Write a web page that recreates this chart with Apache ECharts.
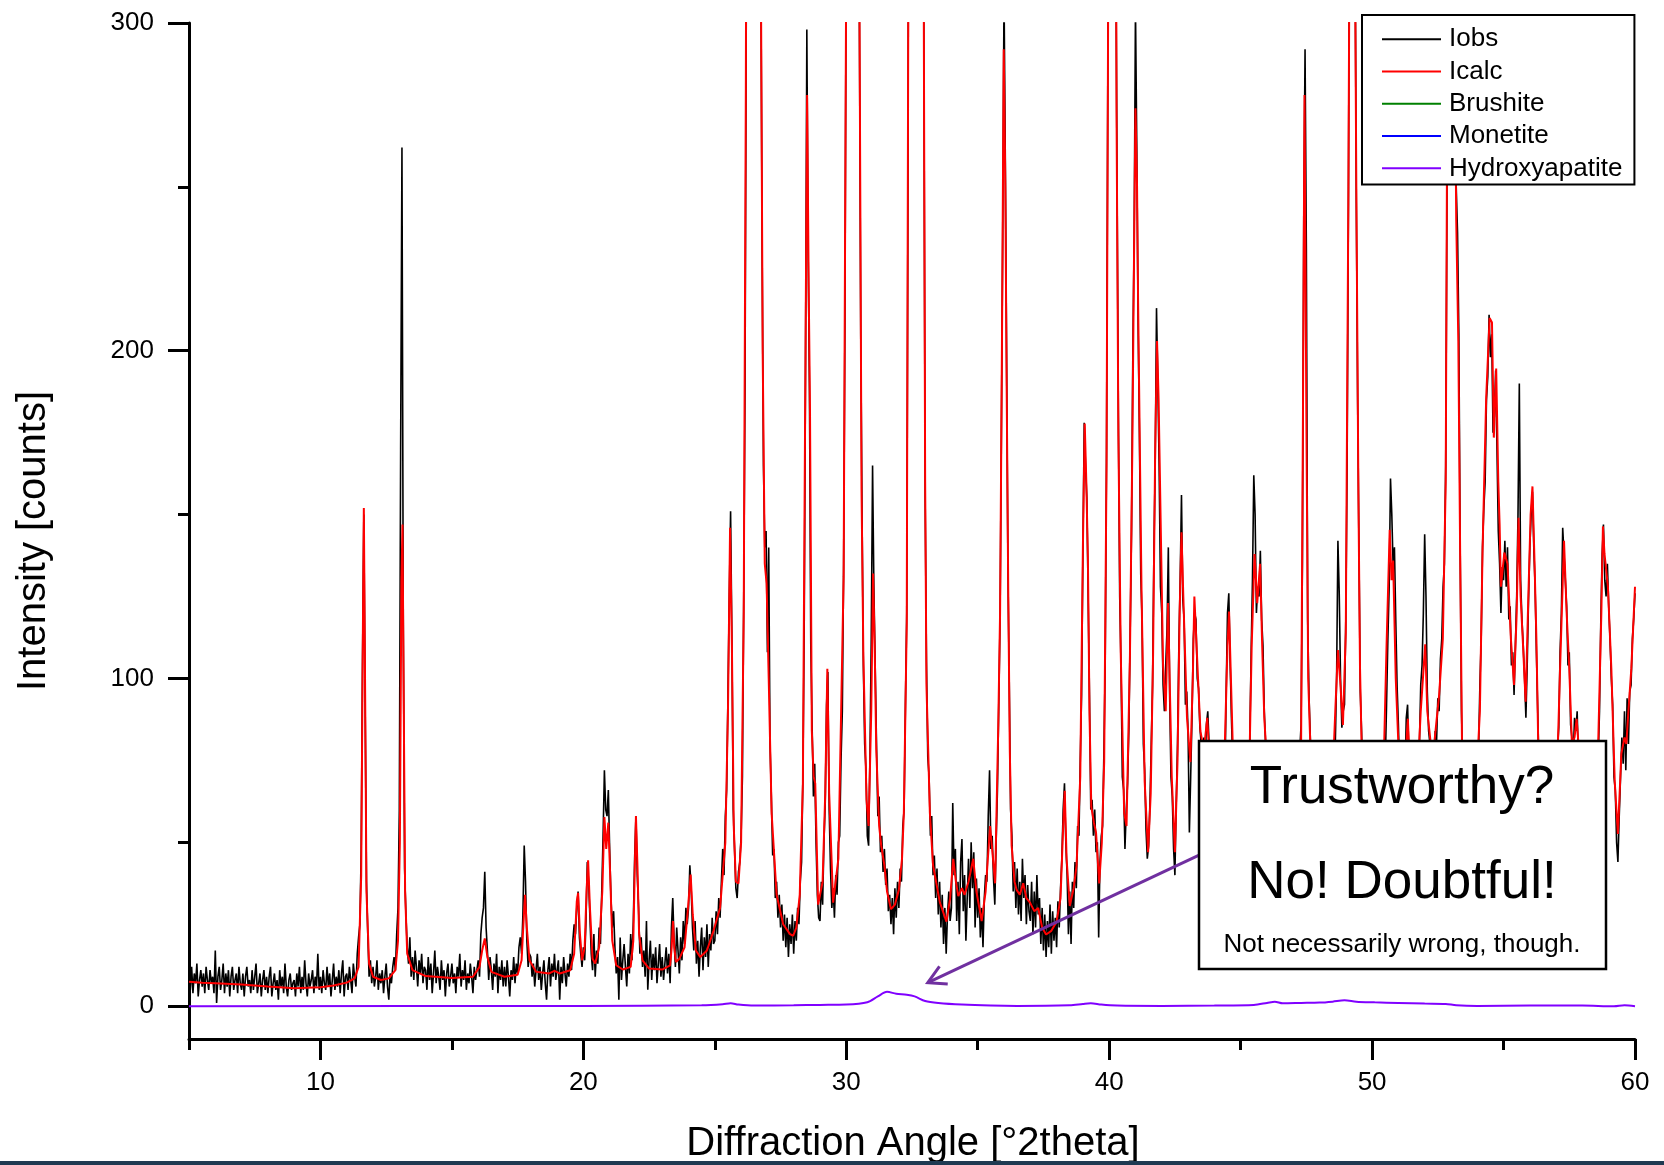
<!DOCTYPE html>
<html>
<head>
<meta charset="utf-8">
<title>XRD pattern - Rietveld fit</title>
<script src="https://cdn.jsdelivr.net/npm/echarts@6/dist/echarts.min.js"></script>
<style>
  html, body { margin: 0; padding: 0; background: #fff; }
  #chart { width: 1664px; height: 1165px; }
</style>
</head>
<body>
<div id="chart"></div>
<script>
// scan grid of the measured pattern (one row of 20 steps per degree)
const scanStart = 5;
const scanStep = 0.05;

// Iobs, rows start at 5, 6, 7 ... 60 deg
const iobsRows = [
  [9,5,12,4,10,7,13,3,8,11,6,10,4,12,8,5,11,7,9,4],
  [17,1,9,12,5,8,13,4,10,6,11,3,9,12,5,8,10,4,12,7],
  [5,10,3,9,12,6,8,4,11,5,9,13,4,7,10,3,8,11,5,9],
  [4,9,12,3,7,10,5,8,2,11,6,9,4,13,6,3,8,10,5,7],
  [8,3,10,6,12,4,9,5,14,7,3,10,6,8,11,4,9,6,16,5],
  [9,4,11,7,5,12,6,10,3,8,13,5,9,6,11,4,10,14,3,9],
  [10,5,12,8,4,13,9,6,16,21,25,48,105,150,92,38,22,9,14,7],
  [12,6,9,14,5,10,7,11,4,9,13,6,2,10,7,12,15,11,22,30],
  [60,170,262,118,42,28,18,13,21,9,15,8,17,12,6,14,10,16,7,12],
  [11,5,15,8,13,4,10,17,7,12,9,5,14,8,11,3,10,13,6,9],
  [13,7,10,4,12,9,16,6,11,8,14,5,10,7,13,9,4,12,8,11],
  [14,9,22,27,30,41,24,17,8,15,11,5,13,9,16,4,12,8,14,6],
  [12,6,14,9,3,11,8,15,7,13,10,18,21,16,28,49,38,20,12,16],
  [15,9,13,6,11,16,8,12,5,10,14,7,2,11,15,6,13,9,16,8],
  [8,14,2,12,7,15,10,6,13,9,16,11,20,25,22,30,35,21,16,12],
  [18,14,26,44,38,27,16,11,22,9,17,13,24,19,35,52,72,60,58,66],
  [48,33,24,29,18,10,15,2,21,8,14,19,12,6,16,10,22,14,26,45],
  [58,40,30,16,21,12,17,9,26,5,14,20,8,16,11,18,7,13,19,9],
  [15,8,13,18,10,16,7,24,33,20,12,24,17,10,21,14,26,19,30,25],
  [30,43,36,24,17,26,13,20,9,18,24,11,21,15,25,12,22,17,27,19],
  [20,29,22,33,27,38,48,40,58,66,95,125,151,112,60,48,36,33,41,44],
  [52,70,125,190,310,500,610,660,690,700,680,640,570,500,400,320,230,165,140,145],
  [108,140,80,64,46,48,33,38,27,34,24,31,20,28,18,27,15,25,19,28],
  [16,26,20,30,25,38,44,70,115,195,298,230,188,110,86,64,74,50,34,27],
  [26,38,31,50,62,92,102,60,42,30,36,27,40,34,50,52,75,90,135,210],
  [330,610,880,860,790,770,710,590,460,340,300,205,150,104,80,72,52,49,76,112],
  [165,128,104,80,58,64,47,52,41,48,37,42,29,34,25,33,22,36,27,38],
  [30,42,38,55,60,92,120,260,520,790,910,940,990,1010,960,880,810,690,460,300],
  [155,105,76,70,52,58,40,46,33,42,28,38,24,34,19,30,16,28,35,26],
  [30,62,40,48,26,38,22,44,51,29,40,20,33,45,30,50,36,47,24,39],
  [27,36,21,30,18,33,40,38,58,72,48,52,39,31,50,66,92,118,175,235],
  [310,258,195,132,98,60,52,35,44,30,42,28,38,26,45,33,40,25,37,29],
  [26,38,22,35,24,40,28,33,19,30,17,28,15,26,18,31,16,29,20,27],
  [18,32,24,36,45,60,68,50,40,22,35,19,38,30,44,36,55,52,75,95],
  [138,178,165,155,125,95,60,63,52,60,47,50,21,44,52,55,78,105,170,290],
  [410,590,720,610,490,330,250,180,125,104,70,66,48,60,68,85,115,145,200,235],
  [305,262,208,175,132,118,80,72,54,45,49,62,80,98,138,165,213,190,165,128],
  [120,98,90,104,115,140,95,70,64,48,40,62,80,110,130,156,124,118,92,96],
  [84,53,70,88,112,120,118,100,97,85,80,76,82,74,86,90,80,70,60,62],
  [52,60,50,62,55,64,58,72,68,96,120,126,105,88,74,60,65,50,56,48],
  [46,56,48,60,52,62,70,82,108,130,162,150,120,128,125,139,118,110,90,80],
  [70,62,66,54,58,50,55,47,52,58,46,53,49,56,44,51,57,48,54,50],
  [52,60,58,70,64,78,86,135,240,292,231,118,95,82,70,72,60,64,52,56],
  [50,58,54,62,50,60,56,63,58,66,64,72,80,100,142,126,100,85,90,92],
  [118,165,245,360,400,430,370,330,245,185,140,96,84,66,70,55,60,48,54,46],
  [50,44,52,48,56,50,58,54,62,66,74,92,112,128,161,150,134,140,118,98],
  [86,70,74,60,72,70,88,92,76,72,60,68,58,70,62,76,80,98,104,120],
  [144,125,96,84,80,70,78,72,84,80,94,90,106,112,128,135,165,250,340,460],
  [480,440,380,290,250,236,205,140,90,72,70,58,64,56,60,54,62,55,60,68],
  [68,78,98,112,140,152,160,185,192,211,198,205,175,180,194,170,145,135,120,134],
  [130,142,128,140,118,122,104,108,95,110,125,150,190,130,118,110,100,88,104,124],
  [140,150,157,140,128,108,90,72,70,60,64,56,62,58,64,55,60,66,58,64],
  [66,78,85,108,120,146,138,130,122,104,108,86,82,76,88,84,90,74,78,66],
  [70,62,68,60,66,64,70,58,66,62,68,72,76,90,118,138,147,130,125,135],
  [122,112,100,92,70,66,50,44,58,70,82,74,90,72,94,80,96,98,112,118],
  [126]
];

// Icalc as [angle, counts]
const icalcPoints = [
  [5,7.5],[5.5,7.2],[6,7],[7,6.6],[8,6],[9,5.5],[10,5.8],[10.5,6.3],[11,7.2],[11.3,8.5],
  [11.45,12],[11.55,40],[11.6,100],[11.65,152],[11.7,95],[11.75,35],[11.85,13],[12,9],[12.3,8],[12.6,8.5],
  [12.85,11],[12.95,20],[13.02,50],[13.08,130],[13.12,147],[13.17,90],[13.22,35],[13.3,16],[13.5,11],[14,9.2],
  [15,8.6],[15.8,9],[16.05,12],[16.15,17],[16.25,20.7],[16.35,15],[16.5,10.5],[17,9],[17.5,9.6],[17.65,14],
  [17.72,25],[17.78,34],[17.85,24],[17.95,14],[18.2,10.5],[18.7,10],[18.9,10.8],[19.1,10],[19.5,11],[19.65,16],
  [19.75,32],[19.8,34.6],[19.87,22],[19.95,14],[20.05,18],[20.12,35],[20.18,44.5],[20.25,30],[20.35,14.5],[20.45,13],
  [20.6,18],[20.72,35],[20.8,57.7],[20.87,48],[20.95,56],[21.02,40],[21.1,20],[21.25,12.5],[21.5,11.2],[21.8,12],
  [21.9,20],[21.95,40],[22,58],[22.06,42],[22.12,22],[22.25,14],[22.5,11.5],[23,11.2],[23.3,12.5],[23.36,18],
  [23.41,26],[23.46,18],[23.52,13.5],[23.65,14.5],[23.85,18],[23.98,30],[24.08,40.2],[24.16,28],[24.28,17],[24.45,15],
  [24.7,17],[24.95,23],[25.2,30],[25.4,50],[25.5,90],[25.58,146],[25.65,110],[25.72,55],[25.8,38],[25.9,37.5],
  [26,50],[26.1,120],[26.18,280],[26.25,500],[26.45,700],[26.65,500],[26.75,320],[26.82,200],[26.9,135],[26.97,129],
  [27.05,100],[27.16,59],[27.35,34],[27.6,25],[27.86,22],[27.98,21.5],[28.1,24],[28.23,34],[28.35,68],[28.45,200],
  [28.51,278],[28.57,220],[28.62,182],[28.69,84],[28.76,70],[28.82,68],[28.93,31],[29.1,38],[29.2,65],[29.28,103],
  [29.35,65],[29.5,31.6],[29.7,45],[29.9,131],[30,320],[30.1,900],[30.25,800],[30.4,450],[30.5,310],[30.58,158],
  [30.65,107],[30.77,63],[30.85,55],[30.95,90],[31.02,132],[31.08,110],[31.14,78.5],[31.25,55],[31.33,49],[31.45,43],
  [31.55,35],[31.7,29.6],[31.85,31],[32,35.5],[32.12,45],[32.19,59],[32.3,117],[32.36,310],[32.45,800],[32.65,1000],
  [32.85,700],[32.95,300],[33,160],[33.05,98],[33.18,59],[33.3,43],[33.56,31.7],[33.81,25.8],[33.95,33],[34.07,45],
  [34.17,38],[34.26,33.6],[34.4,36],[34.5,34],[34.65,38],[34.83,45],[34.95,35],[35.15,26],[35.3,35],[35.47,55],
  [35.58,45],[35.66,37.5],[35.78,85],[35.85,120],[35.92,200],[35.99,292],[36.05,250],[36.1,190],[36.16,127],[36.22,78],
  [36.29,49],[36.4,38],[36.48,35.5],[36.6,34],[36.73,37.5],[36.85,33],[36.99,31.6],[37.15,29],[37.3,30],[37.45,24],
  [37.6,21.9],[37.8,23],[38,25.8],[38.15,33],[38.25,55],[38.31,65.7],[38.38,45],[38.5,30.6],[38.65,36],[38.76,43],
  [38.9,70],[39,140],[39.07,177.8],[39.13,160],[39.19,137],[39.25,90],[39.32,60.8],[39.42,56],[39.5,53],[39.62,37.5],
  [39.72,50],[39.81,74.6],[39.9,166],[39.95,280],[40,400],[40.1,700],[40.2,500],[40.28,273],[40.35,174],[40.44,107.6],
  [40.57,59],[40.66,55],[40.79,107],[40.88,170],[40.94,224.6],[41,274],[41.06,250],[41.1,214.8],[41.23,127],[41.35,68.6],
  [41.48,47],[41.58,65],[41.67,107.6],[41.75,170],[41.82,203],[41.88,185],[41.92,166],[42.05,103.7],[42.15,90],[42.24,123],
  [42.3,100],[42.38,70],[42.5,47],[42.6,75],[42.68,120],[42.75,144.6],[42.82,125],[42.96,88],[43.09,74.5],[43.18,100],
  [43.24,125],[43.34,107],[43.47,84],[43.6,78],[43.73,88],[43.85,70],[44,55],[44.2,55],[44.4,80],[44.5,110],
  [44.56,120.4],[44.63,100],[44.75,65],[45,50],[45.3,60],[45.42,110],[45.53,138],[45.63,123],[45.74,135],[45.82,110],
  [45.9,88],[46.1,60],[46.3,50],[46.6,48],[47,55],[47.2,70],[47.3,80.6],[47.37,180],[47.43,278],[47.5,180],
  [47.57,100],[47.65,80],[47.9,55],[48.2,50],[48.45,60],[48.6,90],[48.7,108.7],[48.78,100],[48.89,85.8],[49,114],
  [49.1,250],[49.18,400],[49.25,420],[49.33,350],[49.4,250],[49.48,156],[49.54,103.4],[49.6,80],[49.8,55],[50.1,48],
  [50.4,60],[50.55,110],[50.67,145.4],[50.74,130],[50.8,136],[50.9,100],[51,80],[51.15,65],[51.3,80],[51.36,87.7],
  [51.45,70],[51.7,65],[51.85,90],[52.02,110.4],[52.1,90],[52.3,75],[52.55,95],[52.69,112],[52.8,160],[52.88,320],
  [52.95,450],[53.05,450],[53.12,320],[53.2,240],[53.28,203],[53.35,138],[53.42,80],[53.6,60],[53.9,58],[54.1,90],
  [54.2,138.4],[54.34,185.7],[54.47,210],[54.56,208.6],[54.63,173.5],[54.72,194.6],[54.8,160],[54.85,147],[54.9,128],[55.03,138.4],
  [55.15,135],[55.28,112],[55.4,98],[55.5,120],[55.57,149],[55.65,125],[55.73,112],[55.84,92.9],[55.93,121],[56.03,150],
  [56.1,158.6],[56.18,135],[56.25,112],[56.32,80],[56.5,60],[56.8,58],[57.05,75],[57.15,103],[57.3,142],[57.4,120],
  [57.5,103],[57.6,80],[57.7,82],[57.78,87.7],[57.85,80],[58.1,65],[58.4,65],[58.6,80],[58.72,120],[58.78,146.4],
  [58.84,138],[58.97,128],[59.1,103],[59.23,68.4],[59.35,52.6],[59.48,77],[59.6,82],[59.67,80],[59.75,90],[59.86,103],
  [60,128]
];

// phase contributions (Brushite and Monetite show no visible trace)
const brushitePoints = [];
const monetitePoints = [];
const hydroxyapatitePoints = [
  [5,0],[20,0.1],[24.5,0.3],[25.3,0.6],[25.6,0.9],[25.9,0.5],[26.5,0.2],[28,0.3],[29,0.4],[30,0.5],
  [30.8,1.2],[31.2,3],[31.55,4.4],[31.9,3.8],[32.3,3.5],[32.6,3],[33,1.6],[33.5,1],[34.4,0.5],[35.5,0.2],
  [36.5,0.1],[38.5,0.3],[39,0.7],[39.3,0.9],[39.7,0.5],[40.3,0.2],[42,0.1],[44,0.2],[45.5,0.4],[46,1],
  [46.3,1.4],[46.6,0.9],[47.3,1],[48,1.1],[48.5,1.4],[48.95,1.8],[49.4,1.4],[50.1,1.2],[51,1],[52,0.8],
  [52.8,0.7],[53.2,0.3],[54,0.1],[56,0.2],[58,0.2],[59.2,0],[59.6,0.3],[60,0]
];

// axis ticks
const xMajorTicks = [10, 20, 30, 40, 50, 60];
const xMinorTicks = [5, 15, 25, 35, 45, 55];
const yMajorTicks = [0, 100, 200, 300];
const yMinorTicks = [50, 150, 250];

// annotation arrow, in data units
const arrowFrom = [43.4, 46];
const arrowTo = [33.1, 7.2];

const FONT = '"Liberation Sans", Arial, sans-serif';

const iobsPoints = [];
iobsRows.forEach((row, r) => {
  row.forEach((v, j) => {
    iobsPoints.push([+(scanStart + r + j * scanStep).toFixed(2), v]);
  });
});

const chart = echarts.init(document.getElementById('chart'));

function lineSeries(name, data, color, width, z) {
  return {
    name: name,
    type: 'line',
    data: data,
    symbol: 'none',
    showSymbol: false,
    clip: true,
    z: z,
    itemStyle: { color: color },
    lineStyle: { color: color, width: width },
    emphasis: { disabled: true }
  };
}

const tickStyle = { color: '#000', width: 3 };

chart.setOption({
  animation: false,
  backgroundColor: '#fff',
  textStyle: { fontFamily: FONT },
  grid: { left: 189, right: 29, top: 23, bottom: 126 },
  xAxis: [
    {
      type: 'value', min: 5, max: 60, position: 'bottom',
      axisLine: { onZero: false, lineStyle: { color: '#000', width: 3 } },
      axisTick: { customValues: xMajorTicks, length: 21, lineStyle: tickStyle },
      axisLabel: { customValues: xMajorTicks, margin: 31, fontSize: 26, color: '#000', fontFamily: FONT },
      splitLine: { show: false }
    },
    {
      type: 'value', min: 5, max: 60, position: 'bottom',
      axisLine: { show: false, onZero: false },
      axisTick: { customValues: xMinorTicks, length: 11, lineStyle: tickStyle },
      axisLabel: { show: false },
      splitLine: { show: false }
    }
  ],
  yAxis: [
    {
      type: 'value', min: -10, max: 300, position: 'left',
      axisLine: { show: true, onZero: false, lineStyle: { color: '#000', width: 3 } },
      axisTick: { show: true, customValues: yMajorTicks, length: 21, lineStyle: tickStyle },
      axisLabel: { customValues: yMajorTicks, margin: 35, fontSize: 26, color: '#000', fontFamily: FONT },
      splitLine: { show: false }
    },
    {
      type: 'value', min: -10, max: 300, position: 'left',
      axisLine: { show: false, onZero: false },
      axisTick: { show: true, customValues: yMinorTicks, length: 11, lineStyle: tickStyle },
      axisLabel: { show: false },
      splitLine: { show: false }
    }
  ],
  legend: {
    orient: 'vertical',
    left: 1362, top: 15,
    padding: [8, 12, 0, 20],
    itemGap: 0,
    itemWidth: 59,
    itemHeight: 2,
    icon: 'rect',
    selectedMode: false,
    backgroundColor: '#fff',
    borderColor: '#000',
    borderWidth: 2,
    z: 20,
    textStyle: { fontSize: 26, lineHeight: 32.3, color: '#000', fontFamily: FONT, padding: [0, 0, 0, 3] },
    data: ['Iobs', 'Icalc', 'Brushite', 'Monetite', 'Hydroxyapatite']
  },
  series: [
    lineSeries('Iobs', iobsPoints, '#000000', 1.6, 2),
    lineSeries('Icalc', icalcPoints, '#ff0000', 2, 3),
    lineSeries('Brushite', brushitePoints, '#008000', 2, 4),
    lineSeries('Monetite', monetitePoints, '#0000ff', 2, 4),
    Object.assign(lineSeries('Hydroxyapatite', hydroxyapatitePoints, '#8000ff', 2, 5), { smooth: 0.3 })
  ]
});

// annotation box, arrow, axis titles
const tail = chart.convertToPixel({ gridIndex: 0 }, arrowFrom);
const tip = chart.convertToPixel({ gridIndex: 0 }, arrowTo);
const dx = tail[0] - tip[0], dy = tail[1] - tip[1];
const len = Math.sqrt(dx * dx + dy * dy);
const ux = dx / len, uy = dy / len;
const headLen = 20, headAng = 29 * Math.PI / 180;
function arm(sign) {
  const c = Math.cos(sign * headAng), s = Math.sin(sign * headAng);
  return [tip[0] + headLen * (ux * c - uy * s), tip[1] + headLen * (ux * s + uy * c)];
}
const arrowColor = '#7030a0';

chart.setOption({
  graphic: [
    {
      type: 'line', z: 40, silent: true,
      shape: { x1: tail[0], y1: tail[1], x2: tip[0], y2: tip[1] },
      style: { stroke: arrowColor, lineWidth: 3 }
    },
    {
      type: 'polyline', z: 40, silent: true,
      shape: { points: [arm(1), tip, arm(-1)] },
      style: { stroke: arrowColor, lineWidth: 3, fill: null }
    },
    {
      type: 'rect', z: 50, silent: true,
      shape: { x: 1199, y: 741, width: 407, height: 228 },
      style: { fill: '#fff', stroke: '#000', lineWidth: 2.5 }
    },
    {
      type: 'text', z: 51, silent: true, x: 1402, y: 788,
      style: { text: 'Trustworthy?', fontSize: 53, fontFamily: FONT, fill: '#000', align: 'center', verticalAlign: 'middle' }
    },
    {
      type: 'text', z: 51, silent: true, x: 1402, y: 883,
      style: { text: 'No! Doubtful!', fontSize: 53, fontFamily: FONT, fill: '#000', align: 'center', verticalAlign: 'middle' }
    },
    {
      type: 'text', z: 51, silent: true, x: 1402, y: 945,
      style: { text: 'Not necessarily wrong, though.', fontSize: 26, fontFamily: FONT, fill: '#000', align: 'center', verticalAlign: 'middle' }
    },
    {
      type: 'text', z: 30, silent: true, x: 913, y: 1144,
      style: { text: 'Diffraction Angle [°2theta]', fontSize: 40, fontFamily: FONT, fill: '#000', align: 'center', verticalAlign: 'middle' }
    },
    {
      type: 'text', z: 30, silent: true, x: 34, y: 541, rotation: Math.PI / 2,
      style: { text: 'Intensity [counts]', fontSize: 40, fontFamily: FONT, fill: '#000', align: 'center', verticalAlign: 'middle' }
    },
    {
      type: 'rect', z: 60, silent: true,
      shape: { x: 0, y: 1161, width: 1664, height: 4 },
      style: { fill: '#1f3a52' }
    }
  ]
});
</script>
</body>
</html>
